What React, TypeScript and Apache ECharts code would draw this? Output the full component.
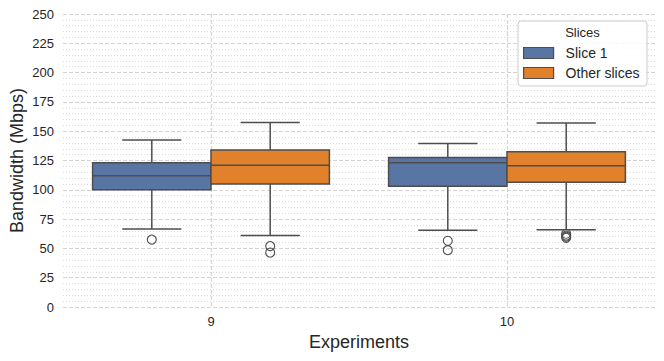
import React, { useEffect, useRef } from "react";
import * as echarts from "echarts";

const experiments = ["9", "10"];
// [min whisker, Q1, median, Q3, max whisker]
const slice1Box = [
  [66.5, 100, 112, 123, 142.5],
  [65.5, 103, 123, 127.5, 139.5],
];
const otherBox = [
  [61, 105, 121, 134, 157.5],
  [66, 106.5, 120.5, 132.5, 157],
];
// [experiment, value]
const slice1Outliers: [string, number][] = [
  ["9", 57.5],
  ["10", 56.5],
  ["10", 48.5],
];
const otherOutliers: [string, number][] = [
  ["9", 52],
  ["9", 46.5],
  ["10", 62.5],
  ["10", 61],
  ["10", 60],
  ["10", 59],
];
const yTicks = { min: 0, max: 250, interval: 25 };

const BLUE = "#5875a4";
const ORANGE = "#e1812c";
const LINE = "#4d4d4d";
const TEXT = "#262626";
const FONT = "'Liberation Sans', Arial, Helvetica, sans-serif";

function boxRenderer(side: number, fill: string) {
  return (params: any, api: any) => {
    const idx = api.value(0);
    const band = api.size([1, 0])[0];
    const half = band * 0.2;
    const cx = api.coord([idx, 0])[0] + side * half;
    const y = (v: number) => api.coord([idx, v])[1];
    const yMin = y(api.value(1));
    const yQ1 = y(api.value(2));
    const yMed = y(api.value(3));
    const yQ3 = y(api.value(4));
    const yMax = y(api.value(5));
    const capHalf = half / 2;
    const ls = { stroke: LINE, lineWidth: 1.5 };
    return {
      type: "group",
      children: [
        { type: "line", shape: { x1: cx, y1: yQ3, x2: cx, y2: yMax }, style: ls },
        { type: "line", shape: { x1: cx, y1: yQ1, x2: cx, y2: yMin }, style: ls },
        { type: "line", shape: { x1: cx - capHalf, y1: yMax, x2: cx + capHalf, y2: yMax }, style: ls },
        { type: "line", shape: { x1: cx - capHalf, y1: yMin, x2: cx + capHalf, y2: yMin }, style: ls },
        {
          type: "rect",
          shape: { x: cx - half, y: yQ3, width: 2 * half, height: yQ1 - yQ3 },
          style: { fill, stroke: LINE, lineWidth: 1.5 },
        },
        { type: "line", shape: { x1: cx - half, y1: yMed, x2: cx + half, y2: yMed }, style: ls },
      ],
    };
  };
}

function outlierRenderer(side: number) {
  return (params: any, api: any) => {
    const idx = api.value(0);
    const band = api.size([1, 0])[0];
    const p = api.coord([idx, api.value(1)]);
    return {
      type: "circle",
      shape: { cx: p[0] + side * band * 0.2, cy: p[1], r: 4.5 },
      style: { fill: "none", stroke: LINE, lineWidth: 1.1 },
    };
  };
}

export default function App() {
  const ref = useRef<HTMLDivElement>(null);
  useEffect(() => {
    if (!ref.current) return;
    const chart = echarts.init(ref.current, undefined, { renderer: "svg" });
    const gridDash = { color: "#d4d4d4", type: [4, 2] as any, width: 1.2 };
    chart.setOption({
      animation: false,
      backgroundColor: "#ffffff",
      textStyle: { fontFamily: FONT },
      grid: { left: 63, right: 9, top: 14, bottom: 54, containLabel: false, outerBoundsMode: "none" },
      xAxis: {
        type: "category",
        data: experiments,
        boundaryGap: true,
        name: "Experiments",
        nameLocation: "middle",
        nameGap: 26,
        nameMoveOverlap: false,
        nameTextStyle: { fontSize: 18, color: TEXT, fontFamily: FONT },
        axisLine: { show: false },
        axisTick: { show: false },
        axisLabel: { fontSize: 13, color: TEXT, margin: 8, fontFamily: FONT },
        splitLine: { show: true, alignWithLabel: true, lineStyle: gridDash },
      },
      yAxis: {
        type: "value",
        min: yTicks.min,
        max: yTicks.max,
        interval: yTicks.interval,
        name: "Bandwidth (Mbps)",
        nameLocation: "middle",
        nameGap: 37,
        nameMoveOverlap: false,
        nameTextStyle: { fontSize: 18, color: TEXT, fontFamily: FONT },
        axisLine: { show: false },
        axisTick: { show: false },
        axisLabel: { fontSize: 13, color: TEXT, margin: 9, fontFamily: FONT },
        splitLine: { show: true, lineStyle: gridDash },
        minorTick: { show: false, splitNumber: 5 },
        minorSplitLine: { show: true, lineStyle: { color: "#dcdcdc", type: [1, 2], width: 1 } },
      },
      legend: {
        orient: "vertical",
        left: 518,
        top: 21,
        padding: [25, 7, 6, 5],
        itemWidth: 30,
        itemHeight: 11,
        itemGap: 6,
        selectedMode: false,
        icon: "rect",
        textStyle: { fontSize: 14, lineHeight: 14, color: TEXT, fontFamily: FONT, padding: [0, 0, 0, 7] },
        data: [
          { name: "Slice 1", itemStyle: { color: BLUE, borderColor: LINE, borderWidth: 1.2 } },
          { name: "Other slices", itemStyle: { color: ORANGE, borderColor: LINE, borderWidth: 1.2 } },
        ],
        z: 5,
      },
      graphic: [
        {
          type: "rect",
          z: 3,
          shape: { x: 518, y: 21, width: 129, height: 65, r: 3 },
          style: { fill: "rgba(255,255,255,0.85)", stroke: "#cccccc", lineWidth: 1 },
        },
        {
          type: "text",
          z: 4,
          x: 582.5,
          y: 32,
          style: {
            text: "Slices",
            fontSize: 13,
            fill: TEXT,
            fontFamily: FONT,
            textAlign: "center",
            textVerticalAlign: "middle",
          },
        },
      ],
      series: [
        {
          name: "Slice 1",
          type: "custom",
          itemStyle: { color: BLUE },
          renderItem: boxRenderer(-1, BLUE),
          encode: { x: 0, y: [1, 2, 3, 4, 5] },
          data: experiments.map((e, i) => [e, ...slice1Box[i]]),
          z: 2,
        },
        {
          name: "Other slices",
          type: "custom",
          itemStyle: { color: ORANGE },
          renderItem: boxRenderer(1, ORANGE),
          encode: { x: 0, y: [1, 2, 3, 4, 5] },
          data: experiments.map((e, i) => [e, ...otherBox[i]]),
          z: 2,
        },
        {
          name: "Slice 1 outliers",
          type: "custom",
          renderItem: outlierRenderer(-1),
          encode: { x: 0, y: 1 },
          data: slice1Outliers,
          z: 2,
        },
        {
          name: "Other slices outliers",
          type: "custom",
          renderItem: outlierRenderer(1),
          encode: { x: 0, y: 1 },
          data: otherOutliers,
          z: 2,
        },
      ],
    });
    return () => chart.dispose();
  }, []);
  return (
    <div
      ref={ref}
      style={{ position: "fixed", left: 0, top: 0, width: 664, height: 361, background: "#fff" }}
    />
  );
}
